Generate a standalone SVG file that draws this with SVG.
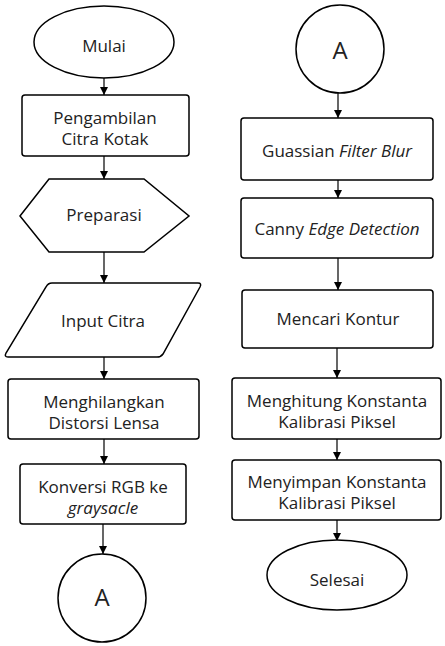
<svg xmlns="http://www.w3.org/2000/svg" width="445" height="646" viewBox="0 0 445 646">
<style>
.s{fill:#fff;stroke:#000;stroke-width:1.5}
.t{font-family:"Open Sans","Noto Sans",sans-serif;font-size:17px;fill:#222;text-anchor:middle}
.a{font-family:"Open Sans","Noto Sans",sans-serif;font-size:24px;fill:#222;text-anchor:middle}
.c{fill:none;stroke:#000;stroke-width:1.2;marker-end:url(#ar)}
</style>
<defs>
<marker id="ar" markerWidth="10" markerHeight="10" refX="8" refY="5" orient="auto" markerUnits="userSpaceOnUse">
<path d="M0,1 L8,5 L0,9 z" fill="#000"/>
</marker>
</defs>
<g id="connectors">
<line class="c" x1="104" y1="78" x2="104" y2="95"/>
<line class="c" x1="104" y1="156" x2="104" y2="179"/>
<line class="c" x1="104" y1="252" x2="104" y2="283"/>
<line class="c" x1="104" y1="357" x2="104" y2="379"/>
<line class="c" x1="104" y1="439" x2="104" y2="464"/>
<line class="c" x1="103" y1="524" x2="103" y2="554"/>
<line class="c" x1="338" y1="93" x2="338" y2="118"/>
<line class="c" x1="338" y1="180" x2="338" y2="198"/>
<line class="c" x1="338" y1="258" x2="338" y2="290"/>
<line class="c" x1="337" y1="348" x2="337" y2="378"/>
<line class="c" x1="337" y1="439" x2="337" y2="460"/>
<line class="c" x1="337" y1="520" x2="337" y2="541"/>
</g>
<g id="mulai">
<ellipse class="s" cx="104" cy="42" rx="70" ry="36"/>
<text class="t" x="104" y="52">Mulai</text>
</g>
<g id="pengambilan">
<rect class="s" x="22" y="95" width="167" height="61" rx="3"/>
<text class="t" x="105" y="124">Pengambilan</text>
<text class="t" x="105" y="145">Citra Kotak</text>
</g>
<g id="preparasi">
<polygon class="s" points="20,216 49,179 144,179 189,216 144,252 49,252"/>
<text class="t" x="104" y="221">Preparasi</text>
</g>
<g id="input">
<path class="s" d="M52,283 L198,283 Q202,283 200,287 L163,354 Q161,357 157,357 L8,357 Q4,357 6,353 L46,287 Q48,283 52,283 z"/>
<text class="t" x="103" y="327">Input Citra</text>
</g>
<g id="distorsi">
<rect class="s" x="8" y="379" width="191" height="60" rx="3"/>
<text class="t" x="104" y="408">Menghilangkan</text>
<text class="t" x="104" y="429">Distorsi Lensa</text>
</g>
<g id="konversi">
<rect class="s" x="20" y="464" width="166" height="60" rx="3"/>
<text class="t" x="103" y="493">Konversi RGB ke</text>
<text class="t" x="103" y="514" font-style="italic">graysacle</text>
</g>
<g id="a1">
<circle class="s" cx="102" cy="598" r="44"/>
<text class="a" x="102" y="606">A</text>
</g>
<g id="a2">
<circle class="s" cx="340" cy="49" r="44"/>
<text class="a" x="340" y="59">A</text>
</g>
<g id="gaussian">
<rect class="s" x="241" y="118" width="192" height="62" rx="3"/>
<text class="t" x="337" y="157">Guassian <tspan font-style="italic">Filter Blur</tspan></text>
</g>
<g id="canny">
<rect class="s" x="241" y="198" width="192" height="60" rx="3"/>
<text class="t" x="337" y="235">Canny <tspan font-style="italic">Edge Detection</tspan></text>
</g>
<g id="kontur">
<rect class="s" x="242" y="290" width="191" height="58" rx="3"/>
<text class="t" x="338" y="325">Mencari Kontur</text>
</g>
<g id="menghitung">
<rect class="s" x="232" y="378" width="209" height="61" rx="3"/>
<text class="t" x="337" y="407">Menghitung Konstanta</text>
<text class="t" x="337" y="428">Kalibrasi Piksel</text>
</g>
<g id="menyimpan">
<rect class="s" x="232" y="460" width="209" height="60" rx="3"/>
<text class="t" x="337" y="488">Menyimpan Konstanta</text>
<text class="t" x="337" y="509">Kalibrasi Piksel</text>
</g>
<g id="selesai">
<ellipse class="s" cx="337" cy="575" rx="70" ry="35"/>
<text class="t" x="337" y="586">Selesai</text>
</g>
</svg>
